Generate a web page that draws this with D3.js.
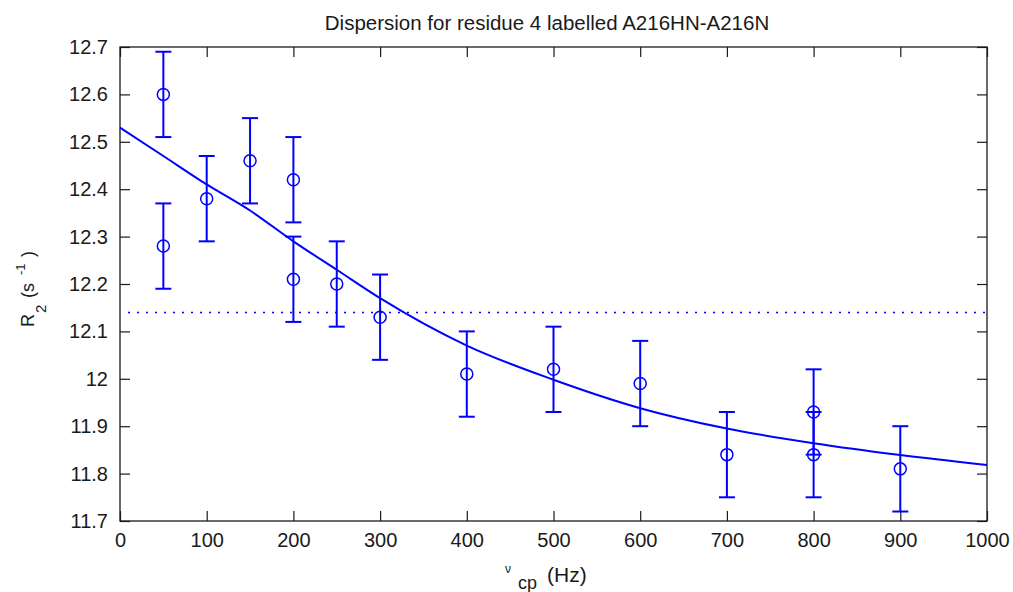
<!DOCTYPE html>
<html>
<head>
<meta charset="utf-8">
<script src="https://cdn.jsdelivr.net/npm/d3@7/dist/d3.min.js"></script>
<style>
  html, body { margin: 0; padding: 0; background: #fff; }
  svg { display: block; }
  text { font-family: "Liberation Sans", Arial, Helvetica, sans-serif; fill: #1a1a1a; }
</style>
</head>
<body>
<svg id="chart" width="1013" height="592"></svg>
<script>
// ---- Data ----
const pointX   = [50, 50, 100, 150, 200, 200, 250, 300, 400, 500, 600, 700, 800, 800, 900];
const pointY   = [12.60, 12.28, 12.38, 12.46, 12.42, 12.21, 12.20, 12.13, 12.01, 12.02, 11.99, 11.84, 11.93, 11.84, 11.81];
const pointErr = [0.09, 0.09, 0.09, 0.09, 0.09, 0.09, 0.09, 0.09, 0.09, 0.09, 0.09, 0.09, 0.09, 0.09, 0.09];

const fitX = [0, 50, 100, 150, 200, 250, 300, 400, 500, 600, 700, 800, 900, 1000];
const fitY = [12.53, 12.47, 12.41, 12.355, 12.29, 12.23, 12.17, 12.07, 11.998, 11.938, 11.895, 11.864, 11.839, 11.818];

const refLevel = 12.14;

const xTicks = [0, 100, 200, 300, 400, 500, 600, 700, 800, 900, 1000];
const xTickLabels = ["0", "100", "200", "300", "400", "500", "600", "700", "800", "900", "1000"];
const yTicks = [11.7, 11.8, 11.9, 12.0, 12.1, 12.2, 12.3, 12.4, 12.5, 12.6, 12.7];
const yTickLabels = ["11.7", "11.8", "11.9", "12", "12.1", "12.2", "12.3", "12.4", "12.5", "12.6", "12.7"];

const titleText = "Dispersion for residue 4 labelled A216HN-A216N";

// ---- Layout ----
const svg = d3.select("#chart");
const L = 120, R = 987, T = 47, B = 521;
const x = d3.scaleLinear().domain([0, 1000]).range([L, R]);
const y = d3.scaleLinear().domain([11.7, 12.7]).range([B, T]);
const blue = "#0000ff";

// axes (ticks inside, MATLAB style)
const fmtX = (d) => xTickLabels[xTicks.indexOf(d)];
const fmtY = (d) => yTickLabels[yTicks.findIndex(v => Math.abs(v - d) < 1e-9)];

function styleAxis(g) {
  g.select(".domain").remove();
  g.selectAll(".tick line").attr("stroke", "#1a1a1a").attr("stroke-width", 1.2);
  g.selectAll(".tick text").attr("font-size", 20).attr("fill", "#1a1a1a")
    .attr("font-family", "'Liberation Sans', Arial, Helvetica, sans-serif");
}

svg.append("g").attr("transform", `translate(0,${B})`)
  .call(d3.axisBottom(x).tickValues(xTicks).tickFormat(fmtX).tickSizeInner(-10).tickSizeOuter(0).tickPadding(12))
  .call(styleAxis);
svg.append("g").attr("transform", `translate(0,${T})`)
  .call(d3.axisTop(x).tickValues(xTicks).tickFormat("").tickSizeInner(-10).tickSizeOuter(0))
  .call(styleAxis);
svg.append("g").attr("transform", `translate(${L},0)`)
  .call(d3.axisLeft(y).tickValues(yTicks).tickFormat(fmtY).tickSizeInner(-10).tickSizeOuter(0).tickPadding(12))
  .call(styleAxis);
svg.append("g").attr("transform", `translate(${R},0)`)
  .call(d3.axisRight(y).tickValues(yTicks).tickFormat("").tickSizeInner(-10).tickSizeOuter(0))
  .call(styleAxis);

// box
svg.append("rect")
  .attr("x", L).attr("y", T).attr("width", R - L).attr("height", B - T)
  .attr("fill", "none").attr("stroke", "#1a1a1a").attr("stroke-width", 1.3);

// dotted reference line
svg.append("line")
  .attr("x1", x(0) + 8).attr("x2", x(1000)).attr("y1", y(refLevel)).attr("y2", y(refLevel))
  .attr("stroke", blue).attr("stroke-width", 1.5).attr("stroke-dasharray", "2,7");

// fit curve
const fitData = fitX.map((d, i) => [d, fitY[i]]);
svg.append("path")
  .datum(fitData)
  .attr("fill", "none").attr("stroke", blue).attr("stroke-width", 2)
  .attr("d", d3.line().x(d => x(d[0])).y(d => y(d[1])).curve(d3.curveMonotoneX));

// error bars + markers
const pts = pointX.map((d, i) => ({ x: d, y: pointY[i], e: pointErr[i] }));
const gp = svg.append("g");
const cap = 8;
gp.selectAll(".eb").data(pts).enter().append("line")
  .attr("x1", d => x(d.x)).attr("x2", d => x(d.x))
  .attr("y1", d => y(d.y - d.e)).attr("y2", d => y(d.y + d.e))
  .attr("stroke", blue).attr("stroke-width", 2);
gp.selectAll(".capt").data(pts).enter().append("line")
  .attr("x1", d => x(d.x) - cap).attr("x2", d => x(d.x) + cap)
  .attr("y1", d => y(d.y + d.e)).attr("y2", d => y(d.y + d.e))
  .attr("stroke", blue).attr("stroke-width", 2);
gp.selectAll(".capb").data(pts).enter().append("line")
  .attr("x1", d => x(d.x) - cap).attr("x2", d => x(d.x) + cap)
  .attr("y1", d => y(d.y - d.e)).attr("y2", d => y(d.y - d.e))
  .attr("stroke", blue).attr("stroke-width", 2);
gp.selectAll("circle").data(pts).enter().append("circle")
  .attr("cx", d => x(d.x)).attr("cy", d => y(d.y)).attr("r", 6)
  .attr("fill", "none").attr("stroke", blue).attr("stroke-width", 1.5);

// title
svg.append("text")
  .attr("x", 547).attr("y", 30).attr("text-anchor", "middle")
  .attr("font-size", 20.5).text(titleText);

// x label: ν_cp (Hz)
const xl = svg.append("g");
xl.append("text").attr("x", 505).attr("y", 573).attr("font-size", 12).text("ν");
xl.append("text").attr("x", 518).attr("y", 589).attr("font-size", 18).text("cp");
xl.append("text").attr("x", 547).attr("y", 582).attr("font-size", 21).text("(Hz)");

// y label: R_2 (s^-1)
const yl = svg.append("g").attr("transform", "translate(34,327) rotate(-90)");
const yt = yl.append("text").attr("font-size", 18);
yt.append("tspan").attr("x", 0).attr("y", 0).text("R");
yt.append("tspan").attr("x", 14).attr("y", 12).attr("font-size", 15).text("2");
yt.append("tspan").attr("x", 29).attr("y", 0).text("(s");
yt.append("tspan").attr("x", 52).attr("y", -9).attr("font-size", 13).text("-1");
yt.append("tspan").attr("x", 70).attr("y", 0).text(")");
</script>
</body>
</html>
